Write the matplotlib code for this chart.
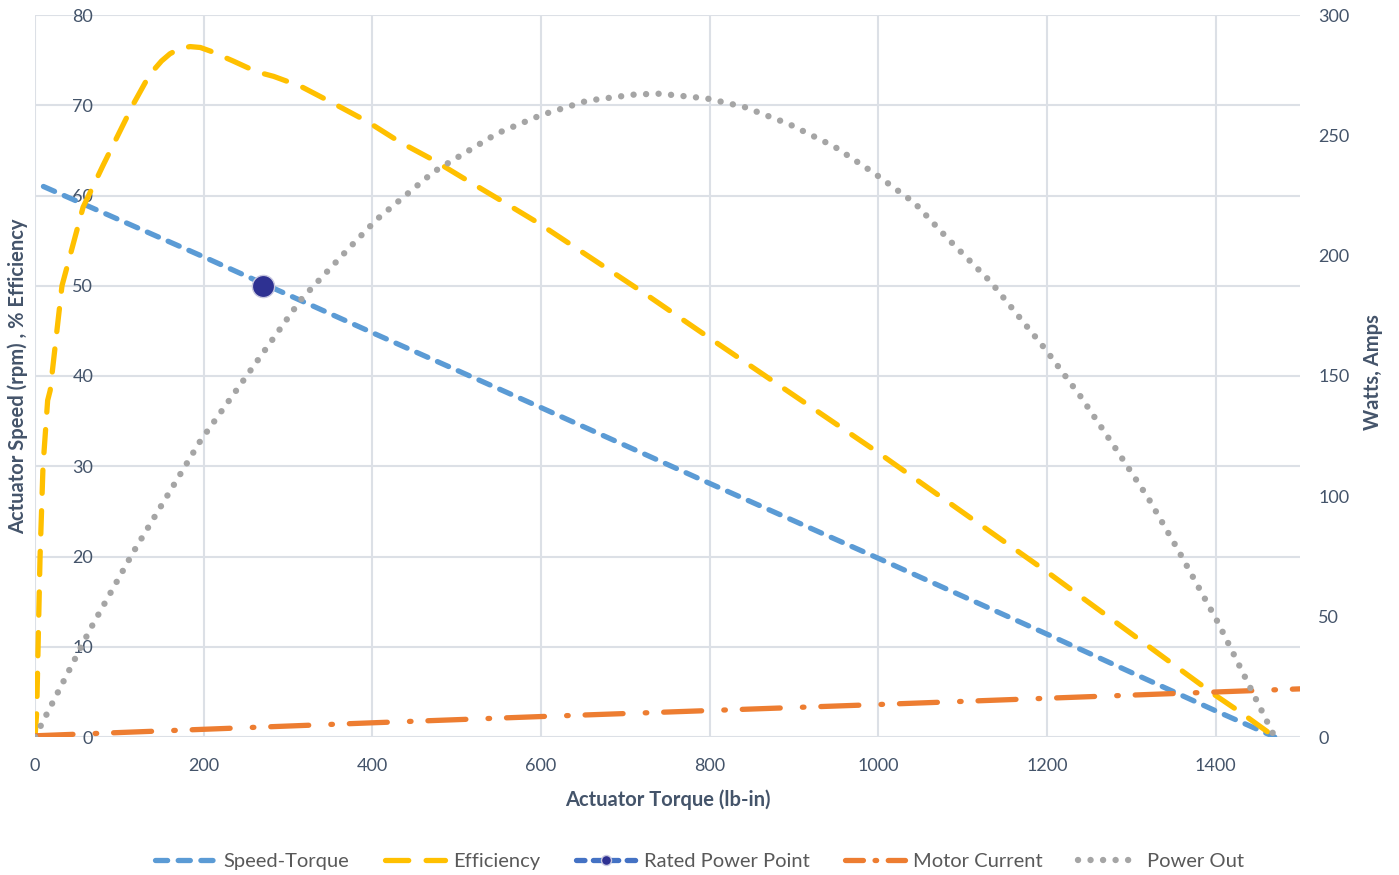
import matplotlib
matplotlib.use("Agg")
import matplotlib.pyplot as plt
from matplotlib.lines import Line2D

plt.rcParams['font.family'] = ['Lato', 'DejaVu Sans']

# speed-torque line (left axis)
st_torque = [10, 200, 400, 600, 800, 1000, 1200, 1400, 1470]
st_speed = [61, 53.2, 44.8, 36.5, 28.1, 19.8, 11.4, 2.9, 0]

# efficiency (left axis)
eff_torque = [0, 2, 4, 6, 9.5, 15, 18, 32, 57, 81, 117, 136, 150, 160, 172, 184, 196, 208,
              235, 263, 283, 315, 354, 394, 433, 473, 512, 548, 596, 722, 800,
              1000, 1200, 1400, 1430, 1470]
eff_pct = [0, 2.7, 11.5, 20, 30, 37.3, 38.4, 50, 58.7, 63.4, 70.2, 73.4, 74.9, 75.7, 76.3,
           76.5, 76.4, 76.0, 74.9, 73.7, 73.2, 72.1, 70.2, 68.2, 65.9, 63.9, 61.7, 59.7,
           57.0, 49.2, 44.2, 31.5, 18.3, 4.6, 2.7, 0]

# rated power point
rated_torque = [270]
rated_speed = [50]

# motor current (right axis)
cur_torque = [0, 200, 400, 600, 800, 1000, 1200, 1400, 1500]
cur_amps = [0.5, 3.2, 5.9, 8.5, 11.0, 13.5, 16.1, 18.7, 20]

# power out (right axis)
pw_torque = [0, 65, 116, 196, 315, 372, 405, 473, 548, 600, 655, 712, 741, 797, 841,
             894, 948, 995, 1043, 1082, 1133, 1197, 1240, 1280, 1320, 1355, 1403, 1470]
pw_watts = [0, 44.5, 76.5, 123, 181.6, 203, 215, 234.9, 250.8, 258.4, 264.4, 267, 267.3,
            265.3, 261.8, 254.7, 245.3, 234.3, 221.9, 207.2, 189.2, 161.6, 141.4, 120.6,
            99.3, 78, 47.4, 0]

txt = '#44546A'
grid = '#DCE0E6'
lw = 3.8

fig = plt.figure(figsize=(13.99, 8.75), dpi=100)
ax = fig.add_axes([35/1399, 1-737/875, (1300-35)/1399, (737-15)/875])
ax2 = ax.twinx()

l1, = ax.plot(st_torque, st_speed, color='#5B9BD5', lw=lw, dashes=(2.3, 2.0),
              dash_capstyle='round', label='Speed-Torque')
l2, = ax.plot(eff_torque, eff_pct, color='#FFC000', lw=lw, dashes=(4.4, 3.3),
              dash_capstyle='round', label='Efficiency')
l3, = ax.plot(rated_torque, rated_speed, color='#4472C4', lw=lw, dashes=(1.6, 1.6),
              dash_capstyle='round', marker='o', ms=16, mfc='#2E3192', mec='#C8C8E0',
              mew=1, zorder=5, label='Rated Power Point')
l4, = ax2.plot(cur_torque, cur_amps, color='#ED7D31', lw=lw, dashes=(7.2, 4.2, 0.3, 3.2),
               dash_capstyle='round', label='Motor Current')
l5, = ax2.plot(pw_torque, pw_watts, color='#A5A5A5', lw=4.6, dashes=(0.01, 1.95),
               dash_capstyle='round', label='Power Out')

ax.set_xlim(0, 1500)
ax.set_ylim(0, 80)
ax2.set_ylim(0, 300)
ax.set_xticks(range(0, 1401, 200))
ax.set_yticks(range(0, 81, 10))
ax2.set_yticks(range(0, 301, 50))

ax.grid(True, color=grid, lw=1.5)
ax.set_axisbelow(True)
for a in (ax, ax2):
    for s in a.spines.values():
        s.set_visible(False)

ax.tick_params(axis='y', length=0, pad=-42, labelsize=13, labelcolor=txt)
ax.tick_params(axis='x', length=0, pad=15, labelsize=13, labelcolor=txt)
ax2.tick_params(axis='y', length=0, pad=13, labelsize=13, labelcolor=txt)
for t in ax.get_yticklabels():
    t.set_horizontalalignment('right')

ax.set_xlabel('Actuator Torque (lb-in)', fontsize=14.5, fontweight='bold', color=txt, labelpad=11)
fig.text(18/1399, 1-376/875, 'Actuator Speed (rpm) , % Efficiency', rotation=90,
         ha='center', va='center', fontsize=14.5, fontweight='bold', color=txt)
fig.text(1373/1399, 1-372/875, 'Watts, Amps', rotation=90,
         ha='center', va='center', fontsize=14.5, fontweight='bold', color=txt)

# legend proxy for the motor current so the dash-dot fits the short handle
cur_handle = Line2D([], [], color='#ED7D31', lw=lw, dashes=(3.4, 2.2, 0.3, 2.2),
                    dash_capstyle='round')
handles = [l1, l2, l3, cur_handle, l5]
labels = ['Speed-Torque', 'Efficiency', 'Rated Power Point', 'Motor Current', 'Power Out']
fig.legend(handles, labels, loc='center', bbox_to_anchor=(0.5, 1-861/875), ncol=5,
           frameon=False, fontsize=14.5, labelcolor='#595959', handlelength=3.0,
           handletextpad=0.4, columnspacing=1.75, markerscale=0.45)

fig.savefig('out.png', dpi=100)
